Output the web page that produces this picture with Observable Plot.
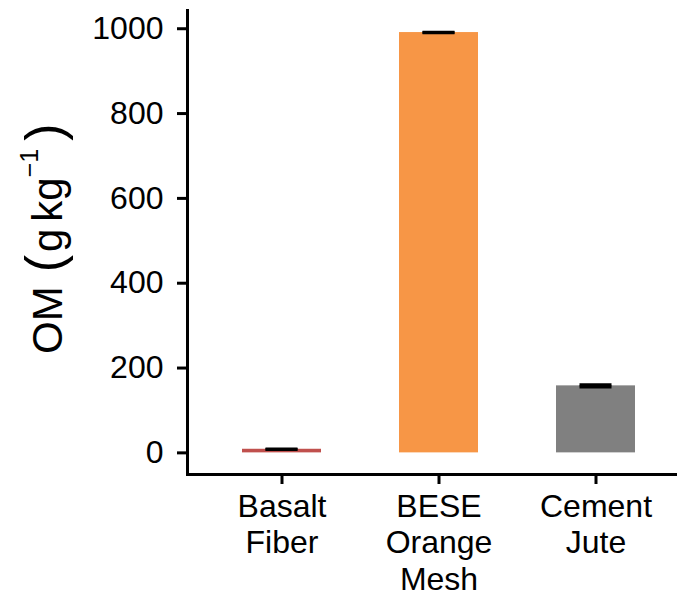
<!DOCTYPE html>
<html><head><meta charset="utf-8">
<script src="https://cdn.jsdelivr.net/npm/d3@7"></script>
<script src="https://cdn.jsdelivr.net/npm/@observablehq/plot@0.6"></script>
<style>body{margin:0;background:#fff} svg{font-family:"Liberation Sans",Arial,sans-serif}</style>
</head><body><div id="chart"></div>
<script>
const categories = ["Basalt\nFiber", "BESE\nOrange\nMesh", "Cement\nJute"];
const means = [8.5, 991, 158];
const errors = [0.5, 0.5, 2.5];
const colors = ["#C0504D", "#F79646", "#808080"];
const yTicks = [0, 200, 400, 600, 800, 1000];
const yLabel = {main: "OM", open: "(", unit1: "g", unit2: "kg", sup: "−1", close: ")"};

const data = categories.map((c, i) => ({cat: c, mean: means[i], se: errors[i]}));

const plot = Plot.plot({
  width: 677, height: 597,
  marginLeft: 187, marginRight: 0, marginTop: 10, marginBottom: 123,
  style: {fontFamily: "'Liberation Sans', Arial, sans-serif", background: "white", color: "black"},
  x: {domain: categories, paddingInner: 0.5, paddingOuter: 0.31, align: 0.567, label: null},
  y: {domain: [-51, 1043], label: null},
  color: {domain: categories, range: colors},
  marks: [
    Plot.barY(data, {x: "cat", y1: 0, y2: "mean", fill: "cat"}),
    Plot.ruleX(data, {x: "cat", y1: d => d.mean - d.se, y2: d => d.mean + d.se, strokeWidth: 3}),
    Plot.tickY(data, {x: "cat", y: d => d.mean + d.se, strokeWidth: 3, insetLeft: 23.5, insetRight: 23.5}),
    Plot.tickY(data, {x: "cat", y: d => d.mean - d.se, strokeWidth: 3, insetLeft: 23.5, insetRight: 23.5}),
    Plot.axisY({ticks: yTicks, tickSize: 10, tickPadding: 14, fontSize: 32, strokeWidth: 3, label: null, tickFormat: d => String(d)}),
    Plot.axisX({tickSize: 10, tickPadding: 6, fontSize: 32, strokeWidth: 3, label: null, lineHeight: 1.15}),
    Plot.frame({anchor: "left", strokeWidth: 3}),
    Plot.frame({anchor: "bottom", strokeWidth: 3})
  ]
});

const svg = d3.select(plot);
const t = svg.append("text")
  .attr("transform", "translate(62,354) rotate(-90)")
  .attr("text-anchor", "start")
  .attr("font-size", 42).attr("fill", "black");
t.append("tspan").text(yLabel.main);
t.append("tspan").attr("dx", 14).attr("font-size", 52).text(yLabel.open);
t.append("tspan").attr("dx", 3).text(yLabel.unit1);
t.append("tspan").attr("dx", 7).text(yLabel.unit2);
t.append("tspan").attr("font-size", 25).attr("dy", -24).text(yLabel.sup);
t.append("tspan").attr("font-size", 52).attr("dy", 24).attr("dx", 8).text(yLabel.close);

document.getElementById("chart").appendChild(plot);
</script>
</body></html>
